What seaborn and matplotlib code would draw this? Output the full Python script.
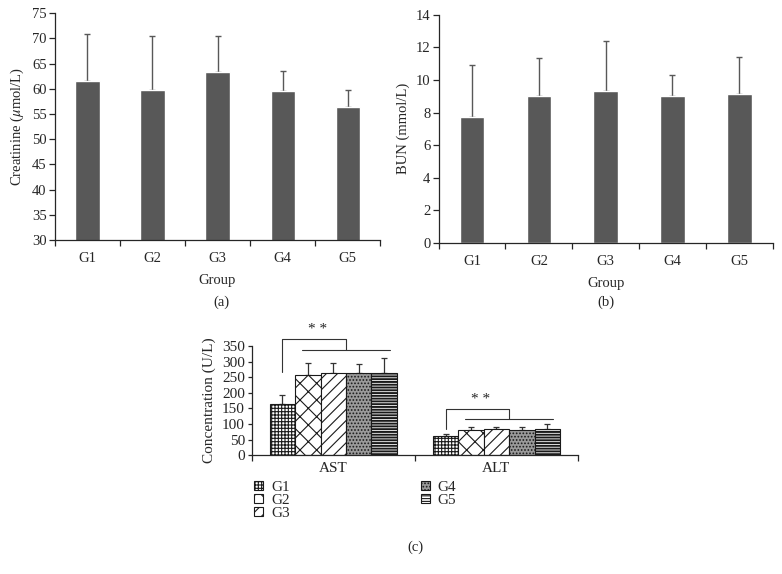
import numpy as np
import pandas as pd
import matplotlib
matplotlib.use('Agg')
import matplotlib.pyplot as plt
import seaborn as sns

# ---- data ----
groups = ['G1', 'G2', 'G3', 'G4', 'G5']

creatinine_mean = [61.6, 59.8, 63.3, 59.6, 56.3]
creatinine_sd = [9.3, 10.6, 7.1, 4.0, 3.5]

bun_mean = [7.75, 9.0, 9.35, 9.0, 9.15]
bun_sd = [3.2, 2.35, 3.05, 1.3, 2.25]

enzymes = ['AST', 'ALT']
ast_mean = [165, 257, 263, 265, 265]
ast_sd = [27, 40, 34, 27, 48]
alt_mean = [60, 80, 83, 80, 85]
alt_sd = [7, 9, 9, 12, 14]

hatches = ['+++++', 'xx', '///', '.....', '------']
faces = ['white', 'white', 'white', '#9a9a9a', 'white']
hatch_lw = [0.8, 0.8, 0.8, 0.8, 1.4]

sns.set_style('ticks')
plt.rcParams['font.family'] = ['Liberation Serif', 'DejaVu Serif']
plt.rcParams['mathtext.fontset'] = 'stix'
plt.rcParams['hatch.linewidth'] = 0.8
plt.rcParams['axes.linewidth'] = 0.9

bar_color = '#585858'
fs = 10.5
fs_c = 11


def simple_panel(ax, means, sds, ylim, yticks, ylabel):
    sns.barplot(x=groups, y=means, color=bar_color, saturation=1, width=0.37,
                errorbar=None, ax=ax, zorder=2)
    xs = [p.get_x() + p.get_width() / 2 for p in ax.patches]
    ax.errorbar(xs, means, yerr=[np.zeros(len(sds)), sds], fmt='none',
                ecolor=bar_color, elinewidth=1.0, capsize=2.5, capthick=1.0, zorder=1)
    ax.set_ylim(*ylim)
    ax.set_yticks(yticks)
    ax.set_xlim(-0.5, len(groups) - 0.5)
    ax.set_xticks(np.arange(-0.5, len(groups)), minor=True)
    ax.tick_params(axis='x', which='major', length=0, labelsize=fs, pad=9)
    ax.tick_params(axis='x', which='minor', length=4, width=0.9, direction='out')
    ax.tick_params(axis='y', length=4, width=0.9, labelsize=fs, pad=2)
    ax.set_xlabel('Group', fontsize=fs, labelpad=6)
    ax.set_ylabel(ylabel, fontsize=fs, labelpad=4)
    sns.despine(ax=ax)


fig = plt.figure(figsize=(7.82, 5.74), dpi=100)

ax_a = fig.add_axes([0.0703, 0.582, 0.4157, 0.395])
simple_panel(ax_a, creatinine_mean, creatinine_sd, (30, 75), range(30, 76, 5),
             r'Creatinine ($\mu$mol/L)')

ax_b = fig.add_axes([0.561, 0.577, 0.427, 0.397])
simple_panel(ax_b, bun_mean, bun_sd, (0, 14), range(0, 15, 2), 'BUN (mmol/L)')

# ---- panel (c) ----
df = pd.DataFrame({
    'enzyme': ['AST'] * len(groups) + ['ALT'] * len(groups),
    'group': groups * 2,
    'value': ast_mean + alt_mean,
    'sd': ast_sd + alt_sd,
})

ax_c = fig.add_axes([0.322, 0.207, 0.417, 0.190])
sns.barplot(data=df, x='enzyme', y='value', hue='group', order=enzymes,
            hue_order=groups, width=0.78, errorbar=None, legend=False,
            saturation=1, ax=ax_c, zorder=2)

bar_sets = list(ax_c.containers)
handles = []
for k, cont in enumerate(bar_sets):
    for bar in cont:
        bar.set_facecolor(faces[k])
        bar.set_edgecolor('#1a1a1a')
        bar.set_hatch(hatches[k])
        bar.set_linewidth(0.8)
        if hasattr(bar, 'set_hatch_linewidth'):
            bar.set_hatch_linewidth(hatch_lw[k])
    handles.append(cont[0])
    sub = df[df.group == groups[k]].set_index('enzyme').loc[enzymes]
    xs = [b.get_x() + b.get_width() / 2 for b in cont]
    ax_c.errorbar(xs, sub.value, yerr=[np.zeros(len(sub)), sub.sd], fmt='none',
                  ecolor='#333333', elinewidth=0.9, capsize=2, capthick=0.9, zorder=1)

ax_c.set_ylim(0, 350)
ax_c.set_yticks(range(0, 351, 50))
ax_c.set_xlim(-0.5, 1.5)
ax_c.set_xticks([-0.5, 0.5, 1.5], minor=True)
ax_c.tick_params(axis='x', which='major', length=0, labelsize=fs_c, pad=5)
ax_c.tick_params(axis='x', which='minor', length=4, width=0.9)
ax_c.tick_params(axis='y', length=3, width=0.9, labelsize=fs_c, pad=2)
ax_c.set_xlabel('')
ax_c.set_ylabel('Concentration (U/L)', fontsize=fs_c, labelpad=4)
sns.despine(ax=ax_c)


# significance brackets (x offsets relative to the category centre)
def bracket(ax, centre, g1_bar, y_low, y_top, y_right, label):
    x0 = g1_bar.get_x() + g1_bar.get_width() / 2
    xl, xm, xr = centre - 0.19, centre + 0.08, centre + 0.35
    kw = dict(color='#333333', lw=0.8, clip_on=False)
    ax.plot([x0, x0, xm, xm], [y_low, y_top, y_top, y_right], **kw)
    ax.plot([xl, xr], [y_right, y_right], **kw)
    ax.text((x0 + xm) / 2 + 0.02, y_top + 10, label, ha='center', va='bottom',
            fontsize=fs_c, clip_on=False)


bracket(ax_c, 0, bar_sets[0][0], 267, 373, 338, '* *')
bracket(ax_c, 1, bar_sets[0][1], 84, 148, 116, '* *')

ax_c.legend(handles=handles, labels=groups, ncol=2, frameon=False,
            loc='upper left', bbox_to_anchor=(-0.035, -0.11),
            fontsize=fs_c, handlelength=0.6, handleheight=0.55,
            handletextpad=0.5, columnspacing=8.6, labelspacing=0.0)

fig.text(0.283, 0.468, '(a)', ha='center', fontsize=fs)
fig.text(0.775, 0.468, '(b)', ha='center', fontsize=fs)
fig.text(0.531, 0.040, '(c)', ha='center', fontsize=fs)

fig.savefig('out.png', dpi=100)
